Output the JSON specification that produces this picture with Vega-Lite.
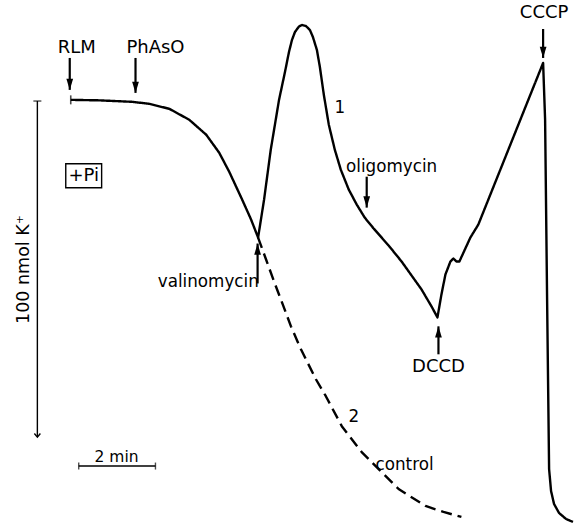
{
  "$schema": "https://vega.github.io/schema/vega-lite/v6.json",
  "width": 575,
  "height": 524,
  "autosize": {"type": "fit", "contains": "padding"},
  "padding": 0,
  "background": "white",
  "config": {"view": {"stroke": null}, "text": {"font": "DejaVu Sans", "color": "black"}},
  "datasets": {
    "curves": [
      {"series": "1", "t": 0.026, "v": 100.15},
      {"series": "1", "t": 0.779, "v": 100.0},
      {"series": "1", "t": 1.636, "v": 99.56},
      {"series": "1", "t": 2.078, "v": 98.96},
      {"series": "1", "t": 2.597, "v": 97.48},
      {"series": "1", "t": 3.117, "v": 94.22},
      {"series": "1", "t": 3.558, "v": 89.78},
      {"series": "1", "t": 3.896, "v": 84.44},
      {"series": "1", "t": 4.156, "v": 78.81},
      {"series": "1", "t": 4.494, "v": 70.52},
      {"series": "1", "t": 4.727, "v": 64.59},
      {"series": "1", "t": 4.909, "v": 59.26},
      {"series": "1", "t": 5.065, "v": 70.52},
      {"series": "1", "t": 5.239, "v": 85.33},
      {"series": "1", "t": 5.455, "v": 100.15},
      {"series": "1", "t": 5.61, "v": 108.44},
      {"series": "1", "t": 5.714, "v": 114.37},
      {"series": "1", "t": 5.792, "v": 117.93},
      {"series": "1", "t": 5.87, "v": 120.3},
      {"series": "1", "t": 5.974, "v": 121.93},
      {"series": "1", "t": 6.052, "v": 122.37},
      {"series": "1", "t": 6.156, "v": 122.07},
      {"series": "1", "t": 6.26, "v": 120.89},
      {"series": "1", "t": 6.338, "v": 118.81},
      {"series": "1", "t": 6.442, "v": 114.96},
      {"series": "1", "t": 6.519, "v": 109.93},
      {"series": "1", "t": 6.623, "v": 101.63},
      {"series": "1", "t": 6.753, "v": 92.74},
      {"series": "1", "t": 6.909, "v": 85.33},
      {"series": "1", "t": 7.065, "v": 79.41},
      {"series": "1", "t": 7.273, "v": 73.48},
      {"series": "1", "t": 7.481, "v": 69.04},
      {"series": "1", "t": 7.688, "v": 65.19},
      {"series": "1", "t": 7.922, "v": 61.93},
      {"series": "1", "t": 8.312, "v": 56.89},
      {"series": "1", "t": 8.649, "v": 52.15},
      {"series": "1", "t": 9.169, "v": 43.85},
      {"series": "1", "t": 9.429, "v": 38.81},
      {"series": "1", "t": 9.584, "v": 35.56},
      {"series": "1", "t": 9.688, "v": 42.37},
      {"series": "1", "t": 9.792, "v": 48.3},
      {"series": "1", "t": 9.922, "v": 52.15},
      {"series": "1", "t": 10.0, "v": 53.04},
      {"series": "1", "t": 10.078, "v": 52.15},
      {"series": "1", "t": 10.156, "v": 52.15},
      {"series": "1", "t": 10.442, "v": 59.26},
      {"series": "1", "t": 10.649, "v": 63.11},
      {"series": "1", "t": 12.338, "v": 111.11},
      {"series": "1", "t": 12.39, "v": 94.22},
      {"series": "1", "t": 12.442, "v": 40.89},
      {"series": "1", "t": 12.494, "v": -9.48},
      {"series": "1", "t": 12.545, "v": -16.0},
      {"series": "1", "t": 12.623, "v": -19.85},
      {"series": "1", "t": 12.753, "v": -22.52},
      {"series": "1", "t": 12.935, "v": -24.3},
      {"series": "1", "t": 13.117, "v": -25.19},
      {"series": "2", "t": 4.909, "v": 59.26},
      {"series": "2", "t": 5.117, "v": 52.74},
      {"series": "2", "t": 5.325, "v": 46.22},
      {"series": "2", "t": 5.532, "v": 40.0},
      {"series": "2", "t": 5.766, "v": 32.89},
      {"series": "2", "t": 6.026, "v": 26.07},
      {"series": "2", "t": 6.156, "v": 23.11},
      {"series": "2", "t": 6.416, "v": 17.19},
      {"series": "2", "t": 6.675, "v": 12.15},
      {"series": "2", "t": 7.091, "v": 3.26},
      {"series": "2", "t": 7.61, "v": -4.44},
      {"series": "2", "t": 8.052, "v": -9.48},
      {"series": "2", "t": 8.571, "v": -15.41},
      {"series": "2", "t": 9.273, "v": -20.44},
      {"series": "2", "t": 9.74, "v": -22.22},
      {"series": "2", "t": 10.208, "v": -23.7}
    ],
    "arrows": [
      {"name": "RLM", "t": 0.0, "v": 112.59, "v2": 103.11, "dir": "down"},
      {"name": "PhAsO", "t": 1.714, "v": 112.59, "v2": 102.22, "dir": "down"},
      {"name": "oligomycin", "t": 7.74, "v": 77.33, "v2": 68.15, "dir": "down"},
      {"name": "CCCP", "t": 12.338, "v": 121.19, "v2": 112.59, "dir": "down"},
      {"name": "valinomycin", "t": 4.896, "v": 45.63, "v2": 57.48, "dir": "up"},
      {"name": "DCCD", "t": 9.61, "v": 24.59, "v2": 32.89, "dir": "up"}
    ],
    "labels": [
      {"text": "RLM", "t": 0.182, "v": 115.56, "kind": "drug"},
      {"text": "PhAsO", "t": 2.234, "v": 115.56, "kind": "drug"},
      {"text": "CCCP", "t": 12.364, "v": 125.93, "kind": "drug"},
      {"text": "DCCD", "t": 9.61, "v": 20.74, "kind": "drug"},
      {"text": "1", "t": 7.039, "v": 97.78, "kind": "note"},
      {"text": "oligomycin", "t": 8.39, "v": 80.3, "kind": "note"},
      {"text": "valinomycin", "t": 3.61, "v": 45.93, "kind": "note"},
      {"text": "2", "t": 7.403, "v": 5.93, "kind": "note"},
      {"text": "control", "t": 8.727, "v": -8.3, "kind": "note"},
      {"text": "+Pi", "t": 0.364, "v": 77.63, "kind": "drug"},
      {"text": "2 min", "t": 1.221, "v": -5.93, "kind": "scale"}
    ],
    "vbar": [{"t": -0.844, "v": 0, "v2": 99.8}],
    "hbar": [{"t": 0.234, "t2": 2.234, "v": -8.59}],
    "hticks": [{"t": 0.234, "v": -8.59}, {"t": 2.234, "v": -8.59}],
    "starttick": [{"t": 0.026, "v": 100.15}],
    "box": [{"t": -0.104, "t2": 0.831, "v": 81.19, "v2": 74.07}],
    "ylabel": [{"text": "100 nmol K⁺", "t": -1.195, "v": 49.78}]
  },
  "encoding": {
    "x": {"field": "t", "type": "quantitative", "scale": {"domain": [-1.818, 13.117], "nice": false, "zero": false}, "axis": null},
    "y": {"field": "v", "type": "quantitative", "scale": {"domain": [-25.5, 129.8], "nice": false, "zero": false}, "axis": null}
  },
  "layer": [
    {
      "data": {"name": "curves"},
      "mark": {"type": "line", "color": "black", "strokeWidth": 2.4, "strokeJoin": "round"},
      "encoding": {
        "detail": {"field": "series"},
        "strokeDash": {"field": "series", "type": "nominal", "scale": {"domain": ["1", "2"], "range": [[1, 0], [11, 6]]}, "legend": null}
      }
    },
    {
      "data": {"name": "arrows"},
      "mark": {"type": "rule", "color": "black", "strokeWidth": 2.2},
      "encoding": {"y2": {"field": "v2"}}
    },
    {
      "data": {"name": "arrows"},
      "mark": {"type": "point", "filled": true, "color": "black", "size": 81, "opacity": 1},
      "encoding": {
        "y": {"field": "v2", "type": "quantitative"},
        "shape": {"field": "dir", "type": "nominal", "scale": {"domain": ["down", "up"], "range": ["M0,0L-0.75,-2.5L0.75,-2.5Z", "M0,0L-0.75,2.5L0.75,2.5Z"]}, "legend": null}
      }
    },
    {
      "data": {"name": "labels"},
      "mark": {"type": "text", "align": "center", "baseline": "middle"},
      "encoding": {
        "text": {"field": "text"},
        "size": {"field": "kind", "type": "nominal", "scale": {"domain": ["drug", "note", "scale"], "range": [18, 15.5, 17]}, "legend": null}
      }
    },
    {
      "data": {"name": "ylabel"},
      "mark": {"type": "text", "align": "center", "baseline": "middle", "angle": 270, "fontSize": 17.5},
      "encoding": {"text": {"field": "text"}}
    },
    {
      "data": {"name": "vbar"},
      "mark": {"type": "rule", "color": "black", "strokeWidth": 1.4},
      "encoding": {"y2": {"field": "v2"}}
    },
    {
      "data": {"name": "vbar"},
      "mark": {"type": "tick", "orient": "horizontal", "color": "black", "size": 8, "thickness": 1.4},
      "encoding": {"y": {"field": "v2", "type": "quantitative"}}
    },
    {
      "data": {"name": "vbar"},
      "mark": {"type": "point", "shape": "M-1,-1.2L0,0L1,-1.2", "filled": false, "color": "black", "strokeWidth": 1.4, "size": 36, "opacity": 1}
    },
    {
      "data": {"name": "hbar"},
      "mark": {"type": "rule", "color": "black", "strokeWidth": 1.4},
      "encoding": {"x2": {"field": "t2"}}
    },
    {
      "data": {"name": "hticks"},
      "mark": {"type": "tick", "orient": "vertical", "color": "black", "size": 7, "thickness": 1.4}
    },
    {
      "data": {"name": "starttick"},
      "mark": {"type": "tick", "orient": "vertical", "color": "black", "size": 9, "thickness": 1.6}
    },
    {
      "data": {"name": "box"},
      "mark": {"type": "rect", "fill": null, "fillOpacity": 0, "stroke": "black", "strokeWidth": 1.4},
      "encoding": {"x2": {"field": "t2"}, "y2": {"field": "v2"}}
    }
  ]
}
